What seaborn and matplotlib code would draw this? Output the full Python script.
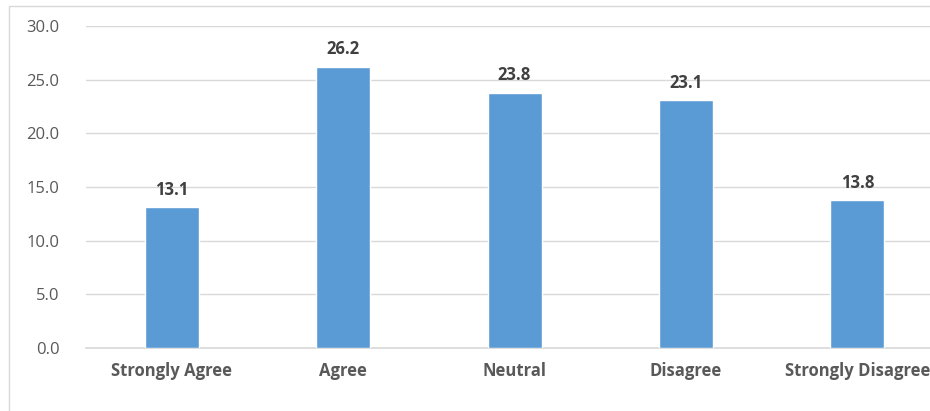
import pandas as pd
import matplotlib
matplotlib.use('Agg')
import matplotlib.pyplot as plt
import matplotlib.patches as mpatches
import seaborn as sns

# ── Data ─────────────────────────────────────────────────────────────────────
categories = ["Strongly Agree", "Agree", "Neutral", "Disagree", "Strongly Disagree"]
percentages = [13.1, 26.2, 23.8, 23.1, 13.8]
y_ticks = [0, 5, 10, 15, 20, 25, 30]

BAR = "#5B9BD5"
GRID = "#D9D9D9"
TXT = "#595959"

sns.set_theme(style="white")
plt.rcParams["font.family"] = ["Open Sans", "DejaVu Sans"]

df = pd.DataFrame({"category": categories, "value": percentages})

fig = plt.figure(figsize=(9.30, 4.11), dpi=100)
ax = fig.add_axes([86 / 930, 1 - 348 / 411, 1 - 86 / 930, (348 - 26) / 411])

sns.barplot(data=df, x="category", y="value", color=BAR, width=0.315,
            saturation=1, ax=ax, zorder=3)

for p, val in zip(ax.patches, percentages):
    ax.annotate(f"{val:.1f}", (p.get_x() + p.get_width() / 2, p.get_height()),
                xytext=(0, 6), textcoords="offset points", ha="center", va="bottom",
                fontsize=12, fontweight="bold", color="#404040")

ax.set_ylim(0, 30)
ax.set_yticks(y_ticks)
ax.set_yticklabels([f"{t:.1f}" for t in y_ticks])
ax.set_xlim(-0.5, 4.424)
ax.yaxis.grid(True, color=GRID, lw=1, zorder=0)
ax.set_axisbelow(True)
for s in ["top", "right", "left"]:
    ax.spines[s].set_visible(False)
ax.spines["bottom"].set_color(GRID)
ax.set_xlabel(""); ax.set_ylabel("")
ax.tick_params(axis="y", length=0, pad=19, labelsize=12, labelcolor=TXT)
ax.tick_params(axis="x", length=0, pad=10, labelsize=12, labelcolor=TXT)
for lbl in ax.get_xticklabels():
    lbl.set_fontweight("bold")

# chart frame (cropped on the right and bottom)
fig.patches.append(mpatches.Rectangle((9 / 930, -0.1), 1.1, 1.1 - 6 / 411,
                                      transform=fig.transFigure, fill=False,
                                      edgecolor=GRID, lw=1))

fig.savefig("out.png", dpi=100, facecolor="white")
